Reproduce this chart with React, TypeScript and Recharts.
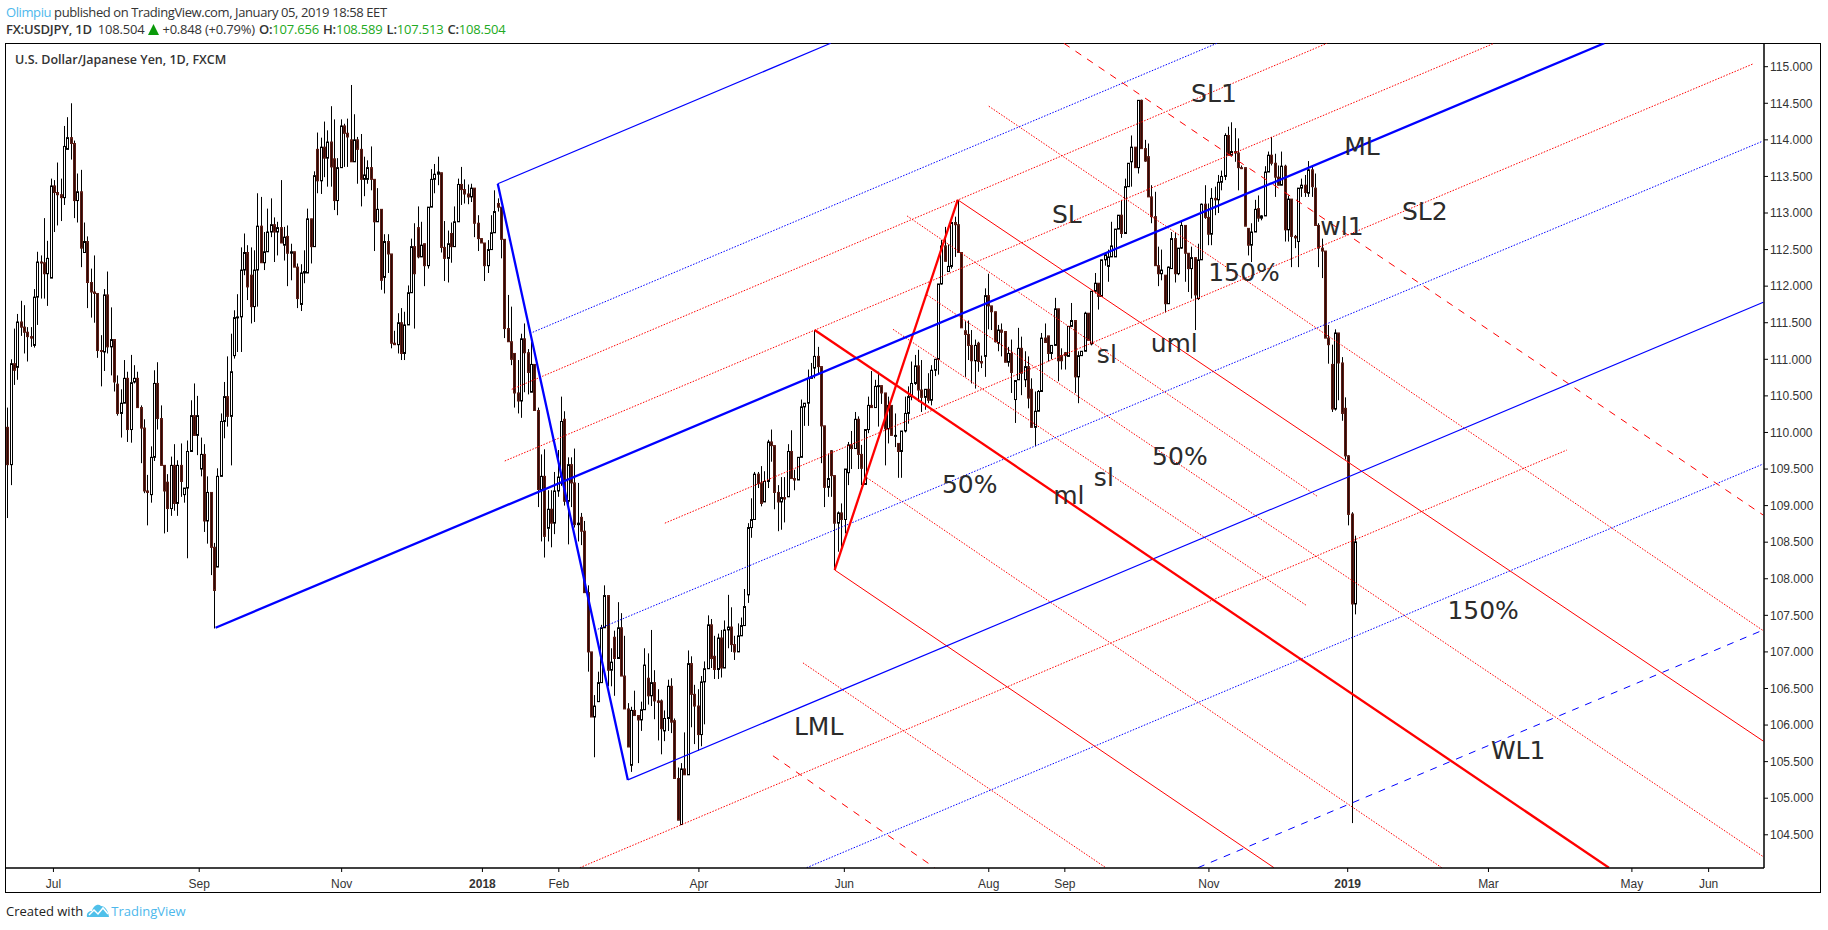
import React from 'react';
import { ComposedChart, Bar, XAxis, YAxis, ReferenceLine, ReferenceDot } from 'recharts';

// USDJPY daily. bar index 0 = first visible bar, 404 = 2019-01-04
const opens = [
  110.07,109.56,110.94,110.89,111.51,111.44,111.37,111.31,111.19,111.85,
  112.33,112.32,112.17,112.11,113.37,113.28,113.25,113.21,113.87,114.03,
  113.95,113.17,113.29,112.46,112.61,112.05,111.92,111.90,111.12,111.10,
  111.88,111.17,111.27,110.66,110.26,110.40,110.74,110.04,110.69,110.74,
  110.34,110.06,109.20,109.15,109.66,110.67,110.19,109.55,109.32,108.96,
  109.55,109.03,109.55,109.15,109.24,109.74,110.23,109.96,109.50,109.70,
  108.79,109.18,108.43,108.16,109.40,110.15,110.49,110.22,111.05,111.57,
  111.58,112.22,112.46,112.15,111.72,112.22,112.82,112.32,112.47,112.74,
  112.84,112.74,112.80,112.56,112.68,112.45,112.47,112.26,111.75,112.18,
  112.18,112.92,112.54,113.87,113.44,113.90,113.75,113.97,113.74,113.17,
  113.62,114.19,114.09,114.00,113.70,114.00,113.87,113.46,113.46,113.62,
  113.46,112.88,113.05,112.12,112.61,112.44,111.22,111.20,111.50,111.08,
  111.47,111.91,112.54,112.80,112.40,112.58,112.28,113.08,113.46,113.53,
  113.55,112.53,112.38,112.72,112.54,112.88,113.39,113.32,113.26,113.22,
  113.34,112.86,112.65,112.59,112.28,112.50,112.73,113.13,113.08,112.64,
  111.42,111.24,111.08,110.54,110.43,111.28,111.09,110.55,110.93,110.30,
  109.22,109.40,108.69,108.95,108.76,109.20,109.39,110.18,109.06,109.56,
  109.31,108.74,108.84,108.65,107.81,107.00,106.11,106.32,106.58,107.33,
  107.77,106.75,107.20,106.91,107.33,106.67,106.22,105.45,106.20,106.13,
  106.07,106.21,106.64,106.40,106.58,106.33,106.33,105.92,106.09,106.53,
  106.06,105.27,104.64,105.40,105.32,106.84,106.42,106.26,105.87,106.59,
  106.77,107.37,106.94,106.76,107.19,106.78,107.30,107.34,107.10,107.00,
  107.22,107.36,107.78,108.70,108.81,109.43,109.31,109.05,109.33,109.87,
  109.82,109.18,109.05,109.11,109.12,109.74,109.37,109.35,109.66,110.35,
  110.40,110.74,110.88,111.04,110.90,110.09,109.25,109.75,109.41,108.76,
  108.90,108.81,109.45,109.83,109.78,110.18,109.70,109.29,110.04,110.37,
  110.34,110.63,110.64,110.54,110.05,110.37,109.96,109.85,109.74,110.02,
  110.26,110.49,110.67,110.91,110.58,110.48,110.59,110.44,110.85,111.00,
  112.03,112.55,112.20,112.27,112.87,112.84,112.46,111.39,111.34,111.19,
  110.98,111.22,110.97,111.04,111.87,111.73,111.65,111.22,111.40,111.38,
  110.96,111.08,110.45,110.72,111.15,110.72,110.90,110.59,110.07,110.29,
  110.56,111.29,111.32,111.08,111.19,111.69,111.05,111.09,111.04,111.45,
  111.53,110.76,111.05,111.11,111.63,111.21,111.93,112.04,111.86,112.36,
  112.27,112.40,112.40,112.78,112.97,112.72,113.36,113.70,113.90,113.62,
  114.54,113.88,113.77,113.22,112.95,112.28,112.17,112.15,111.76,112.24,
  112.65,112.17,112.52,112.83,112.45,112.24,112.39,111.83,112.36,113.12,
  112.94,112.71,113.20,113.18,113.42,113.50,114.06,113.79,113.84,113.82,
  113.62,113.62,112.79,112.56,112.74,113.06,112.93,112.96,113.56,113.79,
  113.68,113.49,113.38,113.64,112.77,113.19,112.68,112.61,113.34,113.38,
  113.27,113.59,113.34,112.83,112.52,112.48,111.29,110.93,110.32,111.36,
  110.95,110.33,109.68,108.885,107.656,
];
const highs = [
  110.34,111.00,111.42,111.62,111.80,111.74,111.44,111.44,111.96,112.47,
  112.42,112.93,112.62,113.47,113.45,113.69,113.47,114.19,114.31,114.50,
  113.99,113.54,113.59,112.87,112.68,112.24,112.42,111.90,111.33,111.96,
  112.20,111.71,111.27,110.78,110.59,110.99,110.83,111.06,110.92,110.83,
  110.37,110.18,109.42,109.81,110.85,110.96,110.37,109.55,109.43,109.67,
  109.84,109.62,109.85,109.24,109.89,110.44,110.67,110.50,109.93,109.84,
  109.40,109.18,108.49,109.51,110.26,110.69,111.04,111.35,111.67,111.89,
  112.53,112.72,112.56,112.53,112.49,113.27,113.22,112.74,113.06,113.20,
  112.94,112.88,113.45,112.81,112.83,112.58,112.47,112.31,112.30,112.49,
  113.06,112.92,113.57,114.10,114.03,114.25,114.13,114.46,114.28,113.75,
  114.28,114.22,114.29,114.75,114.35,114.04,114.08,113.77,113.72,113.91,
  113.46,113.34,113.05,112.71,112.71,112.44,111.39,111.63,111.70,111.65,
  112.01,112.65,112.86,113.09,112.88,112.58,113.08,113.60,113.67,113.77,
  113.55,112.89,112.76,112.87,113.09,113.47,113.63,113.46,113.39,113.40,
  113.34,112.97,112.65,112.59,112.63,112.97,113.31,113.20,113.08,112.64,
  111.88,111.72,111.08,110.99,111.35,111.49,111.14,111.24,110.93,110.34,
  109.70,109.77,109.21,109.21,109.46,109.76,110.49,110.29,109.66,109.66,
  109.78,109.31,108.90,108.79,107.91,107.00,106.41,106.73,107.37,107.91,
  107.77,107.05,107.29,107.68,107.53,107.22,106.30,106.25,106.47,106.13,
  106.32,107.05,106.98,107.30,106.75,106.49,106.35,106.20,106.62,106.64,
  106.09,105.42,105.48,105.90,107.02,106.94,106.55,106.49,106.67,106.87,
  107.50,107.45,107.22,107.25,107.30,107.43,107.78,107.61,107.22,107.39,
  107.47,107.86,108.76,109.10,109.46,109.46,109.54,109.47,109.90,110.04,
  109.82,109.28,109.39,109.39,109.84,110.03,109.49,109.66,110.45,110.40,
  110.86,110.95,111.40,111.17,110.90,110.09,109.71,109.76,109.41,108.92,
  109.03,109.50,109.87,110.02,110.28,110.22,109.83,110.04,110.49,110.84,
  110.72,110.83,110.64,110.54,110.49,110.37,110.26,109.85,110.02,110.49,
  110.63,110.97,111.06,111.13,110.99,110.59,110.81,110.92,111.00,112.03,
  112.63,112.81,112.57,112.88,112.95,113.18,112.46,111.52,111.53,111.40,
  111.27,111.24,111.05,111.97,112.17,111.73,111.65,111.47,111.49,111.38,
  111.17,111.27,110.71,111.43,111.31,111.11,111.04,110.74,110.56,110.58,
  111.36,111.49,111.32,111.19,111.84,111.69,111.15,111.10,111.45,111.77,
  111.53,111.11,111.11,111.65,111.63,111.93,112.18,112.04,112.36,112.45,
  112.50,112.88,112.78,112.97,113.18,113.47,113.68,114.06,113.90,114.54,
  114.55,114.00,113.95,113.38,113.29,112.54,112.50,112.15,112.27,112.74,
  112.73,112.52,112.88,112.83,112.45,112.54,112.39,112.58,113.13,113.38,
  113.13,113.34,113.36,113.52,113.58,114.09,114.18,114.24,114.16,114.02,
  113.65,113.62,112.79,112.86,113.18,113.24,112.97,113.64,113.84,114.04,
  113.81,113.65,113.84,113.66,113.24,113.19,112.70,113.34,113.47,113.52,
  113.71,113.63,113.54,112.86,112.65,112.48,111.47,111.20,111.41,111.36,
  111.03,110.48,109.69,108.91,108.589,
];
const lows = [
  108.83,109.28,110.65,110.72,111.32,111.08,110.97,111.17,111.16,111.47,
  111.83,111.83,111.73,112.11,112.74,112.83,112.89,113.11,113.87,113.73,
  112.93,112.87,112.26,112.46,111.70,111.57,111.50,111.02,110.63,110.84,
  111.08,110.78,110.56,110.23,109.93,110.40,109.87,109.86,110.67,110.34,
  109.58,109.17,108.73,109.04,109.61,110.04,109.55,108.62,108.64,108.86,
  108.93,108.86,109.12,109.04,108.28,109.74,109.96,109.69,109.40,108.64,
  108.48,108.05,107.32,108.16,109.40,109.92,110.08,109.55,111.01,111.10,
  111.10,112.15,111.81,111.49,111.51,111.72,112.32,112.22,112.47,112.67,
  112.33,112.42,112.59,112.35,112.00,112.08,112.26,111.70,111.66,112.04,
  112.18,112.31,112.54,113.27,113.26,113.49,113.36,113.36,113.04,112.97,
  113.62,113.63,113.63,113.70,113.70,113.40,113.09,113.23,113.40,113.31,
  112.48,112.88,111.95,111.90,112.18,111.15,111.20,111.08,110.99,110.99,
  111.47,111.91,111.42,112.38,112.40,112.00,112.24,113.08,113.27,113.38,
  112.46,112.07,112.05,112.32,112.54,112.88,113.11,113.13,113.12,113.15,
  112.67,112.48,112.59,112.07,112.18,112.50,112.73,113.02,112.38,111.29,
  111.24,110.92,110.34,110.26,110.20,110.55,110.52,110.55,110.30,108.98,
  108.51,108.29,108.51,108.43,108.61,109.12,109.27,109.00,108.47,108.98,
  108.70,108.51,108.46,107.81,106.73,106.11,105.56,106.32,106.58,107.33,
  106.53,106.53,106.40,106.91,106.67,106.22,105.70,105.36,106.13,105.48,
  105.92,106.21,106.28,106.26,106.08,105.79,105.60,105.78,105.92,105.89,
  105.27,104.70,104.64,105.32,105.32,105.97,105.74,105.65,105.71,106.01,
  106.77,106.78,106.63,106.63,106.65,106.78,107.05,107.00,106.89,107.00,
  107.22,107.36,107.67,108.56,108.81,109.24,108.99,109.05,109.24,109.60,
  108.95,108.65,108.67,108.77,109.12,109.37,109.21,109.35,109.66,110.09,
  110.09,110.74,110.74,110.80,109.58,108.98,109.12,109.12,108.12,108.37,
  108.39,108.62,109.28,109.50,109.78,109.50,109.28,109.29,109.99,110.34,
  110.34,110.08,110.39,109.55,109.85,109.96,109.80,109.38,109.38,110.00,
  110.12,110.44,110.65,110.42,110.28,110.31,110.40,110.37,110.77,110.79,
  112.02,112.34,112.20,112.24,112.40,112.46,111.43,110.76,110.99,110.67,
  110.60,110.83,110.88,110.76,111.41,111.40,111.23,111.11,111.04,110.96,
  110.90,110.54,110.13,110.72,110.51,110.62,110.33,110.07,109.81,110.29,
  110.56,111.23,110.97,111.00,111.19,110.70,110.86,110.86,111.04,111.45,
  110.54,110.40,111.05,111.11,111.26,111.19,111.90,111.68,111.86,112.28,
  112.06,112.40,112.40,112.78,112.66,112.72,113.36,113.36,113.62,113.54,
  113.88,113.70,113.22,112.86,112.28,112.00,112.08,111.64,111.76,112.24,
  112.05,112.15,112.51,112.06,111.92,111.83,111.40,111.81,112.36,112.92,
  112.56,112.56,112.97,113.00,113.31,113.45,113.79,113.79,113.70,113.31,
  113.60,112.82,112.42,112.33,112.74,112.88,112.90,112.96,113.56,113.65,
  113.22,113.38,113.38,112.61,112.61,112.26,112.52,112.26,113.22,113.22,
  113.22,113.22,112.83,112.26,112.11,111.29,110.94,110.28,110.30,110.44,
  110.16,109.63,108.73,104.66,107.513,
];
const closes = [
  109.56,110.94,110.85,111.51,111.44,111.37,111.31,111.29,111.85,112.33,
  112.32,112.17,112.38,113.37,113.28,113.25,113.21,113.91,114.03,113.95,
  113.17,113.29,112.52,112.61,112.05,111.92,111.90,111.12,111.11,111.88,
  111.17,111.27,110.69,110.26,110.40,110.74,110.04,110.68,110.74,110.34,
  110.06,109.20,109.18,109.66,110.67,110.19,109.55,109.20,108.96,109.55,
  109.03,109.55,109.33,109.24,109.74,110.23,109.96,110.23,109.70,108.79,
  109.18,108.43,107.84,109.40,110.15,110.49,110.22,110.83,111.57,111.58,
  112.22,112.46,111.99,111.72,112.22,112.82,112.32,112.47,112.74,112.84,
  112.74,112.80,112.59,112.67,112.45,112.47,112.26,111.83,112.18,112.20,
  112.92,112.54,113.51,113.44,113.90,113.75,113.97,113.63,113.17,113.62,
  114.19,114.09,114.04,113.70,114.00,113.87,113.46,113.52,113.62,113.46,
  112.88,113.05,112.08,112.61,112.44,111.22,111.20,111.50,111.08,111.47,
  111.91,112.54,112.17,112.40,112.56,112.28,113.08,113.46,113.53,113.56,
  112.53,112.38,112.58,112.54,112.88,113.39,113.32,113.26,113.22,113.34,
  112.86,112.65,112.59,112.28,112.50,112.73,113.02,113.08,112.64,111.42,
  111.24,111.00,110.54,110.43,111.28,111.09,110.82,110.93,110.30,109.22,
  109.40,108.58,108.95,108.76,109.20,109.39,110.15,109.06,109.56,109.31,
  108.74,108.76,108.65,107.81,107.00,106.11,106.26,106.58,107.33,107.77,
  106.75,106.86,106.91,107.33,106.67,106.22,105.70,106.20,106.13,106.07,
  106.21,106.82,106.40,106.58,106.33,106.31,105.95,106.09,106.53,106.04,
  105.27,104.70,105.40,105.32,106.84,106.42,106.26,105.87,106.59,106.77,
  107.37,106.91,106.76,107.19,106.78,107.30,107.34,107.10,107.00,107.22,
  107.36,107.62,108.70,108.81,109.43,109.30,109.03,109.33,109.87,109.82,
  109.18,109.05,109.11,109.09,109.74,109.37,109.35,109.66,110.35,110.40,
  110.74,110.76,111.04,110.90,110.09,109.25,109.37,109.41,108.76,108.90,
  108.81,109.50,109.83,109.78,110.18,109.70,109.51,110.04,110.37,110.34,
  110.63,110.64,110.54,110.05,110.37,109.96,109.96,109.74,110.02,110.26,
  110.49,110.67,110.91,110.58,110.48,110.59,110.44,110.85,111.00,112.03,
  112.55,112.34,112.27,112.87,112.84,112.46,111.43,111.34,111.19,110.98,
  111.19,110.97,110.95,111.87,111.73,111.65,111.24,111.40,111.37,110.96,
  111.08,110.82,110.71,111.15,110.81,110.90,110.47,110.07,110.29,110.56,
  111.29,111.23,111.08,111.19,111.69,110.98,110.98,111.05,111.45,111.53,
  110.76,111.05,111.11,111.63,111.26,111.93,112.04,111.86,112.36,112.43,
  112.40,112.55,112.78,112.97,112.72,113.36,113.68,113.90,113.62,114.54,
  113.88,113.71,113.22,112.95,112.28,112.17,112.22,111.76,112.26,112.65,
  112.17,112.52,112.83,112.45,112.24,112.39,111.88,112.36,113.12,112.94,
  112.71,113.20,113.18,113.42,113.50,114.06,113.79,113.84,113.82,113.62,
  113.61,112.82,112.56,112.74,113.05,112.93,112.96,113.56,113.79,113.68,
  113.49,113.38,113.64,112.77,113.19,112.68,112.66,113.34,113.38,113.28,
  113.59,113.36,112.83,112.52,112.48,111.29,111.20,110.32,111.36,110.95,
  110.26,109.68,108.88,107.656,108.504,
];

const priceTicks = [104.5,105,105.5,106,106.5,107,107.5,108,108.5,109,109.5,110,110.5,111,111.5,112,112.5,113,113.5,114,114.5,115];
const timeTicks = [13.8,57.5,100.2,142.4,165.3,207.3,250.9,294.2,317,360.2,401.8,444,487,510];
const timeLabels = ['Jul','Sep','Nov','2018','Feb','Apr','Jun','Aug','Sep','Nov','2019','Mar','May','Jun'];

const BLUE = '#0000ff';
const RED = '#ff0000';

// [x1, price1, x2, price2] in bar index / price
const blueThick = [
  [147.0,113.40,186.0,105.25],
  [62.4,107.33,478.7,115.32],
];
const blueSolid = [
  [147.0,113.40,246.8,115.32],
  [186.0,105.25,526.4,111.78],
];
const blueDotted = [
  [157.5,111.37,362.6,115.32],
  [177.0,107.31,526.1,113.98],
  [239.6,104.05,526.4,109.57],
];
const blueDashed = [
  [356.9,104.05,526.4,107.30],
];
const redThick = [
  [248.0,108.12,284.9,113.18],
  [242.0,111.40,480.1,104.05],
];
const redSolid = [
  [284.9,113.18,526.4,105.78],
  [248.0,108.12,379.7,104.05],
];
const redDashed = [
  [316.7,115.32,526.4,108.87],
  [229.5,105.58,278.0,104.05],
];
const redDotted = [
  [171.6,104.05,467.5,109.76],
  [197.1,108.76,523.4,115.04],
  [149.1,109.61,445.7,115.32],
  [151.2,110.59,395.6,115.32],
  [294.2,114.46,526.4,107.29],
  [269.7,112.96,392.9,109.12],
  [265.5,111.41,389.6,107.63],
  [257.7,109.38,430.0,104.05],
  [275.7,111.88,526.4,104.20],
  [238.5,106.85,329.3,104.05],
];

const noteTexts = ['SL1','ML','SL','SL2','wl1','150%','uml','sl','50%','50%','sl','ml','150%','WL1','LML'];
const noteX = [361.7,406.1,317.6,424.9,400.1,370.7,349.8,329.6,351.5,288.5,328.7,318.2,442.4,452.9,243.2];
const notePrice = [114.64,113.92,112.99,113.03,112.82,112.19,111.22,111.07,109.68,109.30,109.39,109.14,107.57,105.66,105.99];

const candles = closes.map((close, i) => ({
  i,
  open: opens[i],
  high: highs[i],
  low: lows[i],
  close,
  range: [lows[i], highs[i]],
}));

const Candle = (props: any) => {
  const { x, y, width, height, payload } = props;
  const { open, high, low, close } = payload;
  const perUnit = height / (high - low);
  const cx = Math.round(x + width / 2) + 0.5;
  const top = y + (high - Math.max(open, close)) * perUnit;
  const bodyH = Math.max(Math.abs(open - close) * perUnit, 1);
  const up = close >= open;
  return (
    <g>
      <line x1={cx} x2={cx} y1={y} y2={y + height} stroke="#000" strokeWidth={1} />
      <rect
        x={cx - 1}
        y={top}
        width={2}
        height={bodyH}
        fill={up ? '#fff' : '#2b0a06'}
        stroke={up ? '#000' : '#5a1c14'}
        strokeWidth={1}
      />
    </g>
  );
};

const TimeTick = (props: any) => {
  const { x, y, payload } = props;
  const label = timeLabels[timeTicks.indexOf(payload.value)];
  const bold = label === '2018' || label === '2019';
  return (
    <text x={x} y={y + 14} textAnchor="middle" fontFamily="Liberation Sans" fontSize={12}
      fontWeight={bold ? 700 : 400} fill="#333">
      {label}
    </text>
  );
};

const segmentLines = (rows: number[][], name: string, stroke: string, strokeWidth: number, dash?: string, opacity = 1) =>
  rows.map((r, k) => (
    <ReferenceLine
      key={name + k}
      segment={[{ x: r[0], y: r[1] }, { x: r[2], y: r[3] }]}
      stroke={stroke}
      strokeWidth={strokeWidth}
      strokeDasharray={dash}
      strokeOpacity={opacity}
      ifOverflow="hidden"
    />
  ));

const headerFont = '"Open Sans", "Noto Sans", sans-serif';
const GREEN = '#22aa22';

export default function App() {
  return (
    <div style={{ position: 'absolute', left: 0, top: 0, width: 1828, height: 930, background: '#fff', fontFamily: headerFont, overflow: 'hidden' }}>
      <div style={{ position: 'absolute', left: 6, top: 3, fontSize: 13, letterSpacing: -0.4, color: '#333', whiteSpace: 'nowrap' }}>
        <span style={{ color: '#4db8ec' }}>Olimpiu</span> published on TradingView.com, January 05, 2019 18:58 EET
      </div>
      <div style={{ position: 'absolute', left: 6, top: 20, fontSize: 13, letterSpacing: -0.2, color: '#333', whiteSpace: 'nowrap' }}>
        <b style={{ fontWeight: 600 }}>FX:USDJPY, 1D</b>
        <span style={{ marginLeft: 6 }}>108.504</span>
        <svg width="11" height="11" viewBox="0 0 11 11" style={{ margin: '0 3px 0 4px', verticalAlign: -1 }}>
          <polygon points="5.5,0 11,11 0,11" fill="#0a9a0a" />
        </svg>
        +0.848 (+0.79%)
        <b style={{ fontWeight: 600, marginLeft: 4 }}>O:</b><span style={{ color: GREEN }}>107.656</span>
        <b style={{ fontWeight: 600, marginLeft: 4 }}>H:</b><span style={{ color: GREEN }}>108.589</span>
        <b style={{ fontWeight: 600, marginLeft: 4 }}>L:</b><span style={{ color: GREEN }}>107.513</span>
        <b style={{ fontWeight: 600, marginLeft: 4 }}>C:</b><span style={{ color: GREEN }}>108.504</span>
      </div>
      <div style={{ position: 'absolute', left: 5, top: 42.5, width: 1816, height: 850, border: '1.5px solid #000', boxSizing: 'border-box' }} />
      <div style={{ position: 'absolute', left: 15, top: 51, fontSize: 12.5, fontWeight: 600, color: '#333', whiteSpace: 'nowrap', zIndex: 2 }}>
        U.S. Dollar/Japanese Yen, 1D, FXCM
      </div>
      <div style={{ position: 'absolute', left: 0, top: 0 }}>
        <ComposedChart
          width={1828}
          height={930}
          data={candles}
          margin={{ top: 43, right: 7, bottom: 37, left: 6 }}
        >
          <XAxis
            dataKey="i"
            type="number"
            domain={[-0.42, 526.6]}
            allowDataOverflow
            ticks={timeTicks}
            tick={<TimeTick />}
            tickSize={4}
            height={25}
            interval={0}
            axisLine={{ stroke: '#000', strokeWidth: 1.5 }}
            tickLine={{ stroke: '#000' }}
          />
          <YAxis
            orientation="right"
            type="number"
            domain={[104.046, 115.324]}
            allowDataOverflow
            ticks={priceTicks}
            interval={0}
            width={57}
            tickSize={4}
            tickFormatter={(v: number) => v.toFixed(3)}
            tick={{ fontFamily: 'Liberation Sans', fontSize: 12, fill: '#333' }}
            axisLine={{ stroke: '#000', strokeWidth: 1.5 }}
            tickLine={{ stroke: '#000' }}
          />
          <Bar dataKey="range" barSize={3} isAnimationActive={false} shape={<Candle />} />
          {segmentLines(redDotted, 'rdot', RED, 1, '1.5 1.5')}
          {segmentLines(blueDotted, 'bdot', BLUE, 1, '1.5 1.5')}
          {segmentLines(redDashed, 'rdash', RED, 1, '7 7')}
          {segmentLines(blueDashed, 'bdash', BLUE, 1, '7 7')}
          {segmentLines(redSolid, 'rsol', RED, 1)}
          {segmentLines(blueSolid, 'bsol', BLUE, 1.2)}
          {segmentLines(redThick, 'rthick', RED, 2.3)}
          {segmentLines(blueThick, 'bthick', BLUE, 2.3)}
          {noteTexts.map((t, k) => (
            <ReferenceDot
              key={'note' + k}
              x={noteX[k]}
              y={notePrice[k]}
              r={0}
              stroke="none"
              fill="none"
              ifOverflow="visible"
              label={{ value: t, position: 'center', fontFamily: 'DejaVu Sans', fontSize: 25, fill: '#2b2b2b' }}
            />
          ))}
        </ComposedChart>
      </div>
      <div style={{ position: 'absolute', left: 6, top: 902, fontSize: 13, color: '#222', whiteSpace: 'nowrap', display: 'flex', alignItems: 'center' }}>
        Created with
        <svg width="24" height="16" viewBox="0 0 24 16" style={{ margin: '0 1px 0 3px' }}>
          <path d="M1 14 C0 9 4 8 6 8 C7 3 12 0 15 3 C19 3 22 7 23 14 Z" fill="#4fc0ea" />
          <path d="M3 12 L8 7 L12 11 L17 5 L22 11" fill="none" stroke="#fff" strokeWidth="1.5" />
        </svg>
        <span style={{ color: '#4db8ec' }}>TradingView</span>
      </div>
    </div>
  );
}
